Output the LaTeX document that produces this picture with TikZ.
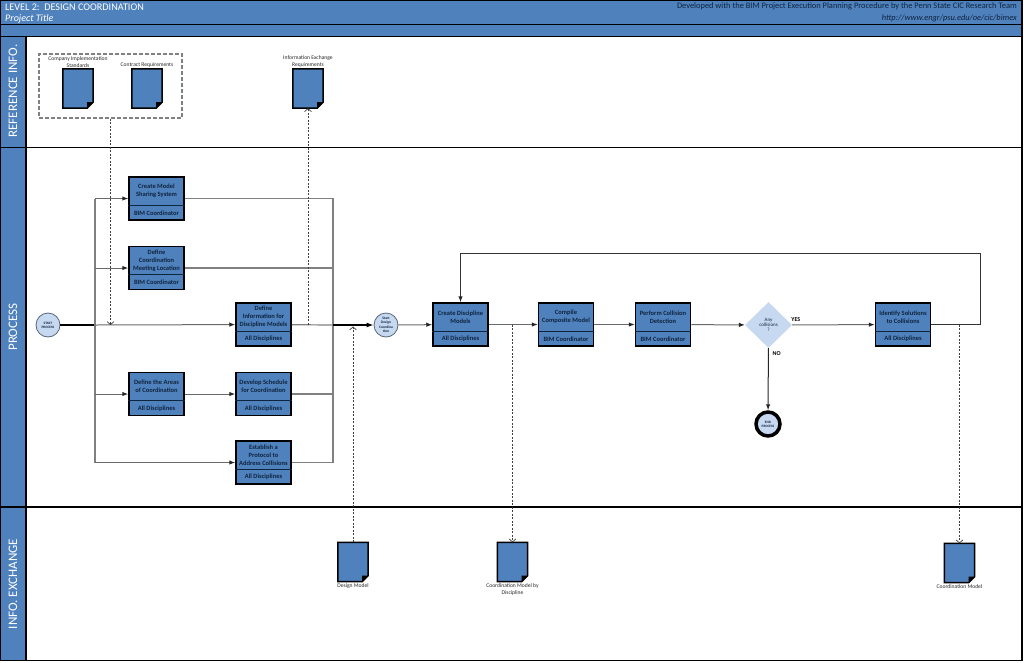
\documentclass[tikz,border=0pt]{standalone}
\usepackage{fontspec}
\setmainfont{Carlito}
\usetikzlibrary{arrows.meta, positioning, shapes.geometric, calc}
\definecolor{bandblue}{RGB}{79,129,189}
\definecolor{taskblue}{RGB}{79,129,189}
\definecolor{paleblue}{RGB}{198,217,241}
\definecolor{navy}{RGB}{15,36,62}
\definecolor{flowgray}{RGB}{105,105,105}
\definecolor{rimgray}{RGB}{128,128,128}

\tikzset{
  laneline/.style={draw=black, line width=1.5pt},
  lanelabel/.style={rotate=90, text=white, font=\fontsize{13}{15}\selectfont, inner sep=0pt},
  taskrect/.style={draw=black, line width=1.5pt, fill=taskblue, minimum width=55pt, minimum height=43pt, inner sep=0pt},
  taskrule/.style={draw=navy, line width=0.7pt},
  tasktext/.style={font=\fontsize{6.5}{8}\selectfont\bfseries, text=navy, align=center, inner sep=0pt},
  docbox/.style={minimum width=30pt, minimum height=39pt, inner sep=0pt},
  docline/.style={draw=black, fill=taskblue, line width=1.5pt, line join=miter},
  doclabel/.style={font=\fontsize{5.6}{7}\selectfont, text=black!85, align=center, inner sep=0pt},
  event/.style={circle, draw=navy!70, line width=0.8pt, fill=paleblue, minimum size=24pt, inner sep=0pt, align=center, text=navy, font=\fontsize{3.4}{4.2}\selectfont\bfseries},
  decision/.style={diamond, fill=paleblue, minimum width=47pt, minimum height=46pt, inner sep=0pt, align=center, text=navy, font=\fontsize{5}{5.2}\selectfont},
  decisionlabel/.style={font=\fontsize{6}{7}\selectfont\bfseries, inner sep=0pt},
  flow/.style={draw=flowgray, line width=1pt, -{Latex[length=6pt,width=4.5pt,color=black!85]}},
  branchline/.style={draw=rimgray, line width=1.2pt},
  mainline/.style={draw=black, line width=2pt},
  infoflow/.style={draw=black!75, line width=0.7pt, dash pattern=on 2pt off 1.5pt, -{Straight Barb[length=3pt,width=7pt]}}
}

% task box: name, x, y, title, role
\newcommand{\taskbox}[5]{%
  \node[taskrect] (#1) at (#2,#3) {};
  \draw[taskrule] ($(#1.north west)!0.65!(#1.south west)$) -- ($(#1.north east)!0.65!(#1.south east)$);
  \node[tasktext] (#1-title) at ($(#1.north)!0.33!(#1.south)$) {#4};
  \node[tasktext] (#1-role) at ($(#1.north)!0.83!(#1.south)$) {#5};
}

% document with folded corner: name, x, y
\newcommand{\infodoc}[3]{%
  \node[docbox] (#1) at (#2,#3) {};
  \draw[docline] (#1.north west) -- (#1.north east) -- ([yshift=6pt]#1.south east) -- ([xshift=-6pt]#1.south east) -- (#1.south west) -- cycle;
  \fill[black] ([yshift=6pt]#1.south east) -- ([xshift=-6pt]#1.south east) -- ([xshift=-6pt,yshift=6pt]#1.south east) -- cycle;
}

\begin{document}
\begin{tikzpicture}[x=1pt, y=-1pt]
    \useasboundingbox (0,0) rectangle (1024,662);

    % Header bands
    \fill[bandblue] (0,0) rectangle (1022,36);
    \draw[laneline] (0,24.5) -- (1022,24.5);
    \draw[laneline] (0,36.5) -- (1022,36.5);
    \node[anchor=west, text=white, font=\fontsize{10.2}{12}\selectfont, inner sep=0pt] (title) at (5,7) {LEVEL 2:\ \ DESIGN COORDINATION};
    \node[anchor=west, text=white, font=\fontsize{10}{12}\selectfont\itshape, inner sep=0pt] (project) at (5,18.5) {Project Title};
    \node[anchor=east, text=navy, font=\fontsize{8.4}{9}\selectfont, inner sep=0pt] (credit) at (1017,6) {Developed with the BIM Project Execution Planning Procedure by the Penn State CIC Research Team};
    \node[anchor=east, text=navy, font=\fontsize{8.4}{9}\selectfont\itshape, inner sep=0pt] (url) at (1017,18) {http://www.engr/psu.edu/oe/cic/bimex};

    % Lanes
    \fill[bandblue] (0,37) rectangle (26,660);
    \draw[laneline] (26,37) -- (26,660);
    \draw[laneline] (0,147.5) -- (1022,147.5);
    \draw[laneline] (0,507) -- (1022,507);
    \draw[laneline] (0,0) rectangle (1022,660.5);
    \node[lanelabel] (lane-ref) at (13,91) {REFERENCE INFO.};
    \node[lanelabel] (lane-proc) at (13,327) {PROCESS};
    \node[lanelabel] (lane-info) at (13,584) {INFO. EXCHANGE};

    % Reference information
    \node[draw=rimgray, line width=1.5pt, dash pattern=on 4pt off 2pt, minimum width=143pt, minimum height=64pt, inner sep=0pt] (refgroup) at (110.5,86) {};
    \infodoc{csdoc}{78}{88.5}
    \infodoc{crdoc}{147}{88.5}
    \infodoc{ierdoc}{308}{88.5}
    \node[doclabel, above=1.5pt of csdoc] (csdoc-l) {Company Implementation\\Standards};
    \node[doclabel, above=1.5pt of crdoc] (crdoc-l) {Contract Requirements};
    \node[doclabel, above=1.5pt of ierdoc] (ierdoc-l) {Information Exchange\\Requirements};

    % Process
    \node[event] (start) at (48,325) {START\\PROCESS};
    \coordinate (split) at (95,325);
    \coordinate (join) at (333,325);
    \taskbox{sharing}{156.5}{198.5}{Create Model\\Sharing System}{BIM Coordinator}
    \taskbox{meeting}{156.5}{268}{Define\\Coordination\\Meeting Location}{BIM Coordinator}
    \taskbox{definfo}{263.5}{324.5}{Define\\Information for\\Discipline Models}{All Disciplines}
    \taskbox{areas}{156.5}{394}{Define the Areas\\of Coordination}{All Disciplines}
    \taskbox{schedule}{263.5}{394}{Develop Schedule\\for Coordination}{All Disciplines}
    \taskbox{protocol}{263.5}{462.5}{Establish a\\Protocol to\\Address Collisions}{All Disciplines}
    \node[event, font=\fontsize{3.6}{4.4}\selectfont\bfseries] (startdc) at (386,325) {Start\\Design\\Coordina\\tion};
    \taskbox{discmodels}{460.5}{324.5}{Create Discipline\\Models}{All Disciplines}
    \taskbox{composite}{566}{324.5}{Compile\\Composite Model}{BIM Coordinator}
    \taskbox{detect}{663}{324.5}{Perform Collision\\Detection}{BIM Coordinator}
    \node[decision] (anycoll) at (768.5,325) {Any\\collisions\\?};
    \taskbox{solutions}{903}{324.5}{Identify Solutions\\to Collisions}{All Disciplines}
    \node[event, draw=black, line width=3.5pt, minimum size=24pt] (endproc) at (768,424) {END\\PROCESS};
    \coordinate (loop) at (980,253);

    % Arrows
    \draw[mainline] (start) -- (split);
    \draw[branchline] (split |- sharing) -- (split |- protocol);
    \draw[flow] (split |- sharing) -- (sharing);
    \draw[flow] (split |- meeting) -- (meeting);
    \draw[flow] (split) -- (definfo);
    \draw[flow] (split |- areas) -- (areas);
    \draw[flow] (split |- protocol) -- (protocol);
    \draw[flow] (areas) -- (schedule);
    \draw[branchline] (sharing) -- (join |- sharing) -- (join |- protocol) -- (protocol);
    \draw[branchline] (meeting) -- (join |- meeting);
    \draw[branchline] (definfo) -- (join);
    \draw[branchline] (schedule) -- (join |- schedule);
    \draw[mainline, -{Latex[length=7pt,width=5pt]}] (join) -- (startdc);
    \draw[flow] (startdc) -- (discmodels);
    \draw[flow] (discmodels) -- (composite);
    \draw[flow] (composite) -- (detect);
    \draw[flow] (detect) -- (anycoll);
    \draw[flow] (anycoll) -- (solutions);
    \draw[flow, draw=black!85] (anycoll) -- (endproc);
    \draw[flow, draw=black!80] (solutions.east) -| (loop) -| (discmodels.north);
    \node[decisionlabel, anchor=south west] (yes) at ([xshift=-1pt,yshift=3pt]anycoll.east) {YES};
    \node[decisionlabel, anchor=north west] (no) at ([xshift=4pt,yshift=-3pt]anycoll.south) {NO};

    % Information exchange
    \infodoc{designdoc}{353}{562}
    \infodoc{discdoc}{512.5}{562}
    \infodoc{coorddoc}{959.5}{563}
    \node[doclabel, below=1.5pt of designdoc] (designdoc-l) {Design Model};
    \node[doclabel, below=1.5pt of discdoc] (discdoc-l) {Coordination Model by\\Discipline};
    \node[doclabel, below=1.5pt of coorddoc] (coorddoc-l) {Coordination Model};

    % Dashed information links
    \draw[infoflow] (refgroup.south) -- (refgroup.south |- split);
    \draw[infoflow] (ierdoc |- definfo) -- (ierdoc.south);
    \draw[infoflow] (designdoc.north) -- ([yshift=-1.5pt]designdoc |- startdc);
    \draw[infoflow] (discdoc |- discmodels) -- (discdoc.north);
    \draw[infoflow] (coorddoc |- solutions) -- (coorddoc.north);
\end{tikzpicture}
\end{document}
